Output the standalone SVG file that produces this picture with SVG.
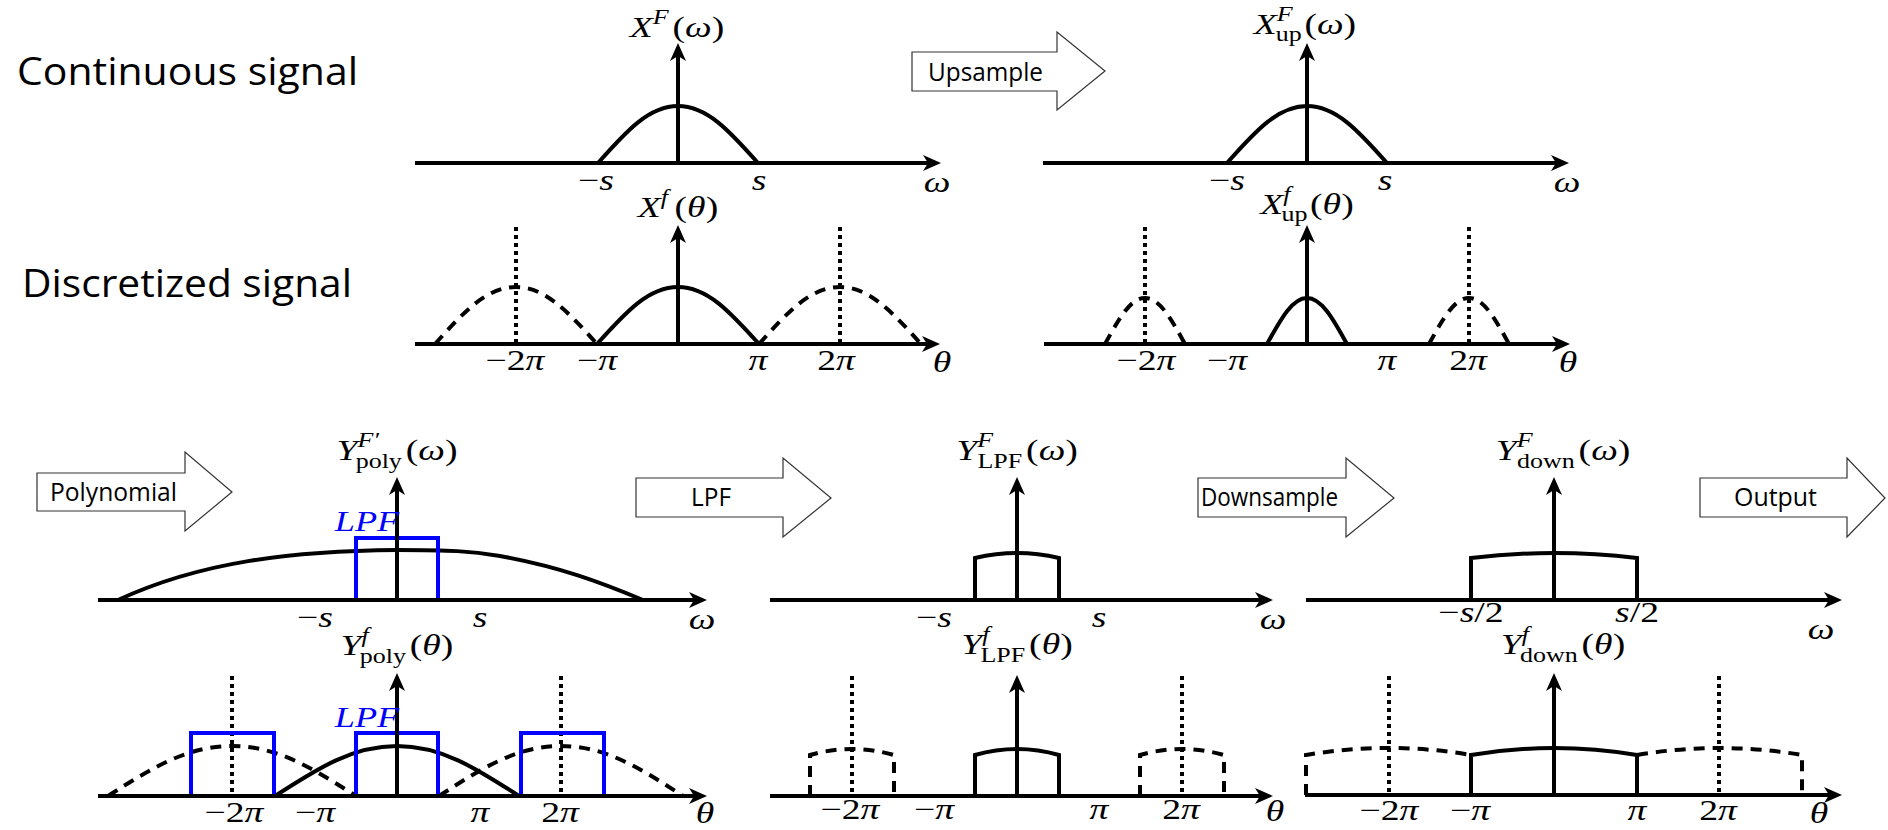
<svg xmlns="http://www.w3.org/2000/svg" width="1888" height="830" viewBox="0 0 1888 830">
<style>
.bg{fill:#fff}
.ax{stroke:#000;stroke-width:4;fill:none;marker-end:url(#ah)}
.cv{stroke:#000;stroke-width:4;fill:none}
.ds{stroke:#000;stroke-width:4;fill:none;stroke-dasharray:11 8}
.dt{stroke:#000;stroke-width:4;fill:none;stroke-dasharray:4 4}
.bl{stroke:#0000ff;stroke-width:4;fill:none}
.blk{fill:#fff;stroke:#333;stroke-width:1.2}
.big{font-family:"Open Sans","Liberation Sans",sans-serif;font-size:39px;fill:#000}
.bt{font-family:"Open Sans","Liberation Sans",sans-serif;font-size:25px;fill:#000}
.m{font-family:"Liberation Serif","DejaVu Serif",serif;font-size:29px;font-style:italic;fill:#000}
.r{font-style:normal}
.sp{font-size:20px}
.lpf{font-family:"Liberation Serif","DejaVu Serif",serif;font-size:29px;font-style:italic;fill:#0000ff}
</style>
<defs>
<marker id="ah" viewBox="0 0 18 20" markerWidth="18" markerHeight="20" refX="12" refY="10" orient="auto" markerUnits="userSpaceOnUse"><path d="M0,2 L18,10 L0,18 L5,10 Z" fill="#000"/></marker>
</defs>
<rect class="bg" x="0" y="0" width="1888" height="830"/>

<g id="label-continuous"><text class="big" x="17" y="85" textLength="341" lengthAdjust="spacingAndGlyphs">Continuous signal</text></g>
<g id="label-discretized"><text class="big" x="22" y="297" textLength="330" lengthAdjust="spacingAndGlyphs">Discretized signal</text></g>

<g id="plot-XF">
<path class="cv" d="M598,163 C626.8,130.5 649.2,106 678,106 C706.8,106 729.2,130.5 758,163"/>
<line class="ax" x1="415" y1="163" x2="935" y2="163"/>
<line class="ax" x1="678" y1="163" x2="678" y2="49"/>
<text class="m" text-anchor="middle" transform="translate(677,37) scale(1.3,1)">X<tspan class="sp" dy="-13">F</tspan><tspan class="r" dy="13" dx="3">(</tspan>ω<tspan class="r">)</tspan></text>
<text class="m" text-anchor="middle" transform="translate(596,190) scale(1.3,1)"><tspan class="r">−</tspan>s</text>
<text class="m" text-anchor="middle" transform="translate(759,190) scale(1.3,1)">s</text>
<text class="m" text-anchor="middle" transform="translate(937,192) scale(1.3,1)">ω</text>
</g>

<g id="plot-XFup">
<path class="cv" d="M1227,163 C1255.8,130.5 1278.2,106 1307,106 C1335.8,106 1358.2,130.5 1387,163"/>
<line class="ax" x1="1043" y1="163" x2="1563" y2="163"/>
<line class="ax" x1="1307" y1="163" x2="1307" y2="49"/>
<text class="m" text-anchor="middle" transform="translate(1305,34) scale(1.3,1)">X<tspan class="sp" dy="-13">F</tspan><tspan class="sp r" dx="-13" dy="20">up</tspan><tspan class="r" dy="-7" dx="2">(</tspan>ω<tspan class="r">)</tspan></text>
<text class="m" text-anchor="middle" transform="translate(1227,190) scale(1.3,1)"><tspan class="r">−</tspan>s</text>
<text class="m" text-anchor="middle" transform="translate(1385,190) scale(1.3,1)">s</text>
<text class="m" text-anchor="middle" transform="translate(1567,192) scale(1.3,1)">ω</text>
</g>

<g id="plot-Xf">
<line class="dt" x1="516" y1="227" x2="516" y2="344"/>
<line class="dt" x1="840" y1="227" x2="840" y2="344"/>
<path class="ds" d="M435,344 C464.2,311.5 486.8,287 516,287 C545.2,287 567.8,311.5 597,344"/>
<path class="ds" d="M759,344 C788.2,311.5 810.8,287 840,287 C869.2,287 891.8,311.5 921,344"/>
<path class="cv" d="M597,344 C626.2,311.5 648.8,287 678,287 C707.2,287 729.8,311.5 759,344"/>
<line class="ax" x1="415" y1="344" x2="934" y2="344"/>
<line class="ax" x1="678" y1="344" x2="678" y2="231"/>
<text class="m" text-anchor="middle" transform="translate(678,217) scale(1.3,1)">X<tspan class="sp" dy="-13">f</tspan><tspan class="r" dy="13" dx="5">(</tspan>θ<tspan class="r">)</tspan></text>
<text class="m" text-anchor="middle" transform="translate(515,370) scale(1.3,1)"><tspan class="r">−2</tspan>π</text>
<text class="m" text-anchor="middle" transform="translate(597,370) scale(1.3,1)"><tspan class="r">−</tspan>π</text>
<text class="m" text-anchor="middle" transform="translate(758,370) scale(1.3,1)">π</text>
<text class="m" text-anchor="middle" transform="translate(836,370) scale(1.3,1)"><tspan class="r">2</tspan>π</text>
<text class="m" text-anchor="middle" transform="translate(942,372) scale(1.3,1)">θ</text>
</g>

<g id="plot-Xfup">
<line class="dt" x1="1145" y1="227" x2="1145" y2="344"/>
<line class="dt" x1="1469" y1="227" x2="1469" y2="344"/>
<path class="ds" d="M1105,344 C1119.4,317.8 1130.6,298 1145,298 C1159.4,298 1170.6,317.8 1185,344"/>
<path class="ds" d="M1429,344 C1443.4,317.8 1454.6,298 1469,298 C1483.4,298 1494.6,317.8 1509,344"/>
<path class="cv" d="M1267,344 C1281.4,317.8 1292.6,298 1307,298 C1321.4,298 1332.6,317.8 1347,344"/>
<line class="ax" x1="1044" y1="344" x2="1564" y2="344"/>
<line class="ax" x1="1307" y1="344" x2="1307" y2="231"/>
<text class="m" text-anchor="middle" transform="translate(1307,214) scale(1.3,1)">X<tspan class="sp" dy="-13">f</tspan><tspan class="sp r" dx="-7" dy="20">up</tspan><tspan class="r" dy="-7" dx="2">(</tspan>θ<tspan class="r">)</tspan></text>
<text class="m" text-anchor="middle" transform="translate(1146,370) scale(1.3,1)"><tspan class="r">−2</tspan>π</text>
<text class="m" text-anchor="middle" transform="translate(1227,370) scale(1.3,1)"><tspan class="r">−</tspan>π</text>
<text class="m" text-anchor="middle" transform="translate(1387,370) scale(1.3,1)">π</text>
<text class="m" text-anchor="middle" transform="translate(1468,370) scale(1.3,1)"><tspan class="r">2</tspan>π</text>
<text class="m" text-anchor="middle" transform="translate(1568,372) scale(1.3,1)">θ</text>
</g>

<g id="plot-YFpoly">
<path class="cv" d="M118,600 C200,562 290,551 397,550 C450,550 470,551 500,556 C560,567 600,582 643,600"/>
<path class="bl" d="M356,600 V538 H438 V600"/>
<line class="ax" x1="98" y1="600" x2="701" y2="600"/>
<line class="ax" x1="397" y1="600" x2="397" y2="483"/>
<text class="lpf" text-anchor="middle" transform="translate(367,531) scale(1.25,1)">LPF</text>
<text class="m" text-anchor="middle" transform="translate(397,460) scale(1.3,1)">Y<tspan class="sp" dy="-13">F′</tspan><tspan class="sp r" dx="-18" dy="21">poly</tspan><tspan class="r" dy="-8" dx="3">(</tspan>ω<tspan class="r">)</tspan></text>
<text class="m" text-anchor="middle" transform="translate(315,627) scale(1.3,1)"><tspan class="r">−</tspan>s</text>
<text class="m" text-anchor="middle" transform="translate(480,627) scale(1.3,1)">s</text>
<text class="m" text-anchor="middle" transform="translate(702,629) scale(1.3,1)">ω</text>
</g>

<g id="plot-YFlpf">
<path class="cv" d="M975,600 V558 Q1017,548 1059,558 V600"/>
<line class="ax" x1="770" y1="600" x2="1267" y2="600"/>
<line class="ax" x1="1017" y1="600" x2="1017" y2="483"/>
<text class="m" text-anchor="middle" transform="translate(1017,460) scale(1.3,1)">Y<tspan class="sp" dy="-13">F</tspan><tspan class="sp r" dx="-12" dy="21">LPF</tspan><tspan class="r" dy="-8" dx="3">(</tspan>ω<tspan class="r">)</tspan></text>
<text class="m" text-anchor="middle" transform="translate(934,627) scale(1.3,1)"><tspan class="r">−</tspan>s</text>
<text class="m" text-anchor="middle" transform="translate(1099,627) scale(1.3,1)">s</text>
<text class="m" text-anchor="middle" transform="translate(1273,629) scale(1.3,1)">ω</text>
</g>

<g id="plot-YFdown">
<path class="cv" d="M1471,600 V558 Q1554,548 1637,558 V600"/>
<line class="ax" x1="1306" y1="600" x2="1836" y2="600"/>
<line class="ax" x1="1554" y1="600" x2="1554" y2="483"/>
<text class="m" text-anchor="middle" transform="translate(1563,460) scale(1.3,1)">Y<tspan class="sp" dy="-13">F</tspan><tspan class="sp r" dx="-12" dy="21">down</tspan><tspan class="r" dy="-8" dx="3">(</tspan>ω<tspan class="r">)</tspan></text>
<text class="m" text-anchor="middle" transform="translate(1471,622) scale(1.3,1)"><tspan class="r">−</tspan>s<tspan class="r">/2</tspan></text>
<text class="m" text-anchor="middle" transform="translate(1637,622) scale(1.3,1)">s<tspan class="r">/2</tspan></text>
<text class="m" text-anchor="middle" transform="translate(1821,639) scale(1.3,1)">ω</text>
</g>

<g id="plot-Yfpoly">
<line class="dt" x1="232" y1="676" x2="232" y2="796"/>
<line class="dt" x1="561" y1="676" x2="561" y2="796"/>
<path class="ds" d="M108,796 C152.6,767.5 187.4,746 232,746 C276.6,746 311.4,767.5 356,796"/>
<path class="ds" d="M439,796 C482.9,767.5 517.1,746 561,746 C604.9,746 639.1,767.5 683,796"/>
<path class="cv" d="M275,796 C318.9,767.5 353.1,746 397,746 C440.9,746 475.1,767.5 519,796"/>
<path class="bl" d="M191,796 V733 H274 V796"/>
<path class="bl" d="M356,796 V733 H438 V796"/>
<path class="bl" d="M521,796 V733 H604 V796"/>
<line class="ax" x1="98" y1="796" x2="701" y2="796"/>
<line class="ax" x1="397" y1="796" x2="397" y2="679"/>
<text class="lpf" text-anchor="middle" transform="translate(367,727) scale(1.25,1)">LPF</text>
<text class="m" text-anchor="middle" transform="translate(397,655) scale(1.3,1)">Y<tspan class="sp" dy="-13">f</tspan><tspan class="sp r" dx="-7" dy="21">poly</tspan><tspan class="r" dy="-8" dx="3">(</tspan>θ<tspan class="r">)</tspan></text>
<text class="m" text-anchor="middle" transform="translate(234,822) scale(1.3,1)"><tspan class="r">−2</tspan>π</text>
<text class="m" text-anchor="middle" transform="translate(315,822) scale(1.3,1)"><tspan class="r">−</tspan>π</text>
<text class="m" text-anchor="middle" transform="translate(480,822) scale(1.3,1)">π</text>
<text class="m" text-anchor="middle" transform="translate(560,822) scale(1.3,1)"><tspan class="r">2</tspan>π</text>
<text class="m" text-anchor="middle" transform="translate(705,823) scale(1.3,1)">θ</text>
</g>

<g id="plot-Yflpf">
<line class="dt" x1="852" y1="676" x2="852" y2="796"/>
<line class="dt" x1="1182" y1="676" x2="1182" y2="796"/>
<path class="ds" d="M810,796 V755 Q852,743 894,755 V796"/>
<path class="ds" d="M1140,796 V755 Q1182,743 1224,755 V796"/>
<path class="cv" d="M975,796 V755 Q1017,743 1059,755 V796"/>
<line class="ax" x1="770" y1="796" x2="1267" y2="796"/>
<line class="ax" x1="1017" y1="796" x2="1017" y2="681"/>
<text class="m" text-anchor="middle" transform="translate(1017,654) scale(1.3,1)">Y<tspan class="sp" dy="-13">f</tspan><tspan class="sp r" dx="-7" dy="21">LPF</tspan><tspan class="r" dy="-8" dx="3">(</tspan>θ<tspan class="r">)</tspan></text>
<text class="m" text-anchor="middle" transform="translate(850,819) scale(1.3,1)"><tspan class="r">−2</tspan>π</text>
<text class="m" text-anchor="middle" transform="translate(934,819) scale(1.3,1)"><tspan class="r">−</tspan>π</text>
<text class="m" text-anchor="middle" transform="translate(1099,819) scale(1.3,1)">π</text>
<text class="m" text-anchor="middle" transform="translate(1181,819) scale(1.3,1)"><tspan class="r">2</tspan>π</text>
<text class="m" text-anchor="middle" transform="translate(1275,821) scale(1.3,1)">θ</text>
</g>

<g id="plot-Yfdown">
<line class="dt" x1="1389" y1="676" x2="1389" y2="795"/>
<line class="dt" x1="1719" y1="676" x2="1719" y2="795"/>
<path class="ds" d="M1306,795 V755 Q1389,741 1471,755"/>
<path class="ds" d="M1637,755 Q1720,741 1802,755 V795"/>
<path class="cv" d="M1471,795 V755 Q1554,741 1637,755 V795"/>
<line class="ax" x1="1305" y1="795" x2="1836" y2="795"/>
<line class="ax" x1="1554" y1="795" x2="1554" y2="679"/>
<text class="m" text-anchor="middle" transform="translate(1563,654) scale(1.3,1)">Y<tspan class="sp" dy="-13">f</tspan><tspan class="sp r" dx="-7" dy="21">down</tspan><tspan class="r" dy="-8" dx="3">(</tspan>θ<tspan class="r">)</tspan></text>
<text class="m" text-anchor="middle" transform="translate(1389,820) scale(1.3,1)"><tspan class="r">−2</tspan>π</text>
<text class="m" text-anchor="middle" transform="translate(1470,820) scale(1.3,1)"><tspan class="r">−</tspan>π</text>
<text class="m" text-anchor="middle" transform="translate(1637,820) scale(1.3,1)">π</text>
<text class="m" text-anchor="middle" transform="translate(1718,820) scale(1.3,1)"><tspan class="r">2</tspan>π</text>
<text class="m" text-anchor="middle" transform="translate(1819,823) scale(1.3,1)">θ</text>
</g>

<g id="connectors">
<g id="arrow-upsample">
<path class="blk" d="M912,52 H1057 V32 L1105,71 L1057,110 V91 H912 Z"/>
<text class="bt" x="928" y="81" textLength="115" lengthAdjust="spacingAndGlyphs">Upsample</text>
</g>
<g id="arrow-polynomial">
<path class="blk" d="M37,473 H185 V452 L232,492 L185,531 V511 H37 Z"/>
<text class="bt" x="50" y="501" textLength="127" lengthAdjust="spacingAndGlyphs">Polynomial</text>
</g>
<g id="arrow-lpf">
<path class="blk" d="M636,478 H783 V458 L831,498 L783,537 V517 H636 Z"/>
<text class="bt" x="691" y="506" textLength="40" lengthAdjust="spacingAndGlyphs">LPF</text>
</g>
<g id="arrow-downsample">
<path class="blk" d="M1198,478 H1346 V458 L1394,498 L1346,537 V517 H1198 Z"/>
<text class="bt" x="1201" y="506" textLength="137" lengthAdjust="spacingAndGlyphs">Downsample</text>
</g>
<g id="arrow-output">
<path class="blk" d="M1700,478 H1847 V458 L1885,498 L1847,537 V517 H1700 Z"/>
<text class="bt" x="1734" y="506" textLength="83" lengthAdjust="spacingAndGlyphs">Output</text>
</g>
</g>
</svg>
